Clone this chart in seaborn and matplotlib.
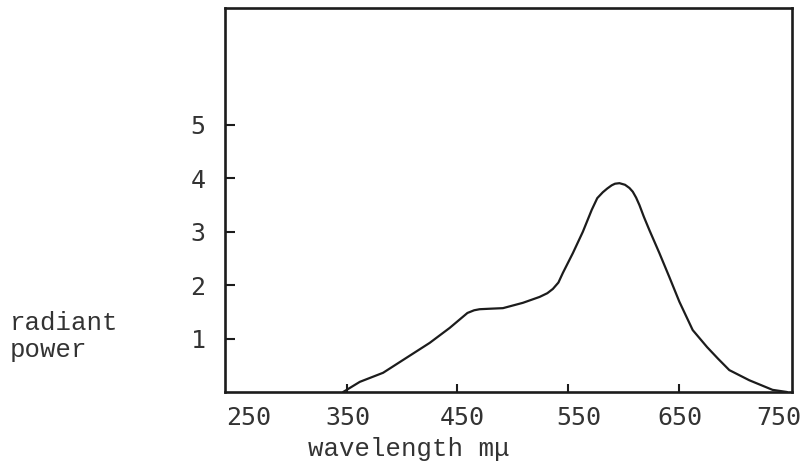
import matplotlib
matplotlib.use("Agg")
import matplotlib.pyplot as plt
import matplotlib.transforms as mtransforms
import seaborn as sns
import pandas as pd

# Radiant power spectrum
wavelength = [347, 362, 383, 404, 425, 443, 459, 465, 470, 480, 491, 509, 524,
              531, 536, 541, 545, 554, 563, 571, 576, 581, 585, 589, 592, 596,
              601, 605, 608, 611, 614, 618, 623, 632, 641, 650, 662, 675, 685,
              695, 713, 734, 747]
power = [0.0, 0.19, 0.36, 0.64, 0.92, 1.20, 1.48, 1.53, 1.55, 1.56, 1.57, 1.67,
         1.78, 1.85, 1.93, 2.05, 2.23, 2.60, 3.00, 3.41, 3.63, 3.74, 3.81, 3.87,
         3.90, 3.91, 3.88, 3.82, 3.75, 3.64, 3.50, 3.28, 3.03, 2.60, 2.15, 1.69,
         1.16, 0.84, 0.62, 0.41, 0.22, 0.04, 0.0]

x_ticks = [250, 350, 450, 550, 650, 750]
x_marks = [350, 450, 550, 650]
y_ticks = [1, 2, 3, 4, 5]

sns.set_style("white")
plt.rcParams["font.family"] = ["DejaVu Sans Mono"]

ink = "#1c1c1c"
df = pd.DataFrame({"wavelength": wavelength, "power": power})

fig = plt.figure(figsize=(8.06, 4.68), dpi=100)
ax = fig.add_axes([225 / 806, 76 / 468, 567 / 806, 384 / 468])

sns.lineplot(data=df, x="wavelength", y="power", ax=ax, color=ink,
             linewidth=1.6, sort=False, solid_joinstyle="round")

ax.set_xlim(240.5, 751.5)
ax.set_ylim(0, 7.19)

for s in ax.spines.values():
    s.set_visible(True)
    s.set_color(ink)
    s.set_linewidth(1.9)

# x axis: labels without marks, short inward marks between
ax.xaxis.remove_overlapping_locs = False
ax.set_xticks(x_ticks)
ax.set_xticklabels([str(v) for v in x_ticks])
ax.set_xticks(x_marks, minor=True)
ax.tick_params(axis="x", which="major", length=0, pad=10, labelsize=18,
               labelcolor="#333333")
ax.tick_params(axis="x", which="minor", direction="in", length=6, width=1.5,
               color=ink, bottom=True)

# typed labels sit slightly off their marks
label_shift = [13, 1, 5, 10, 0, -12]
for lab, dx in zip(ax.get_xticklabels(), label_shift):
    lab.set_transform(lab.get_transform()
                      + mtransforms.ScaledTranslation(dx / 100, 0,
                                                      fig.dpi_scale_trans))

ax.set_yticks(y_ticks)
ax.set_yticklabels([str(v) for v in y_ticks])
ax.tick_params(axis="y", direction="in", length=7, width=1.5, color=ink,
               pad=14, labelsize=18, labelcolor="#333333", left=True)

ax.set_xlabel("")
ax.set_ylabel("")

label_font = dict(family=["Liberation Mono", "DejaVu Sans Mono"], size=18.5,
                  color="#333333")
fig.text(409 / 806, 1 - 449 / 468, "wavelength mμ", ha="center", va="center",
         **label_font)
fig.text(10 / 806, 1 - 330 / 468, "radiant", ha="left", va="baseline",
         **label_font)
fig.text(10 / 806, 1 - 357 / 468, "power", ha="left", va="baseline",
         **label_font)

fig.savefig("out.png", dpi=100, facecolor="white")
